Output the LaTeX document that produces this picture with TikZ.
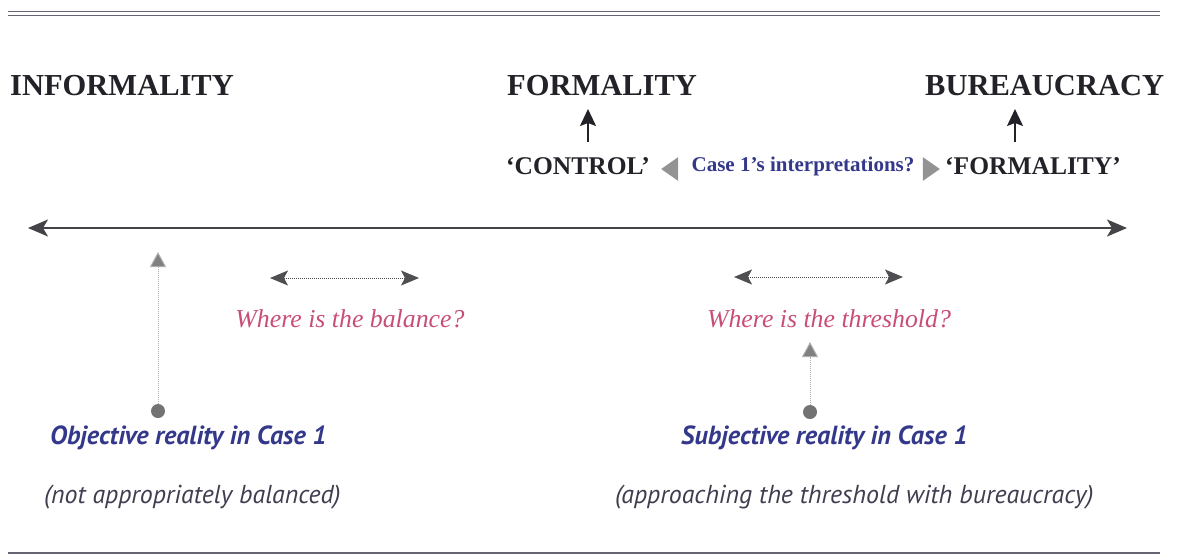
\documentclass[tikz,border=0pt]{standalone}
\usepackage{fontspec}
\setmainfont{Liberation Serif}
\newfontfamily\humansans{PT Sans}
\usetikzlibrary{arrows.meta,shapes.geometric}
\definecolor{ink}{RGB}{34,34,40}
\definecolor{rule}{RGB}{100,100,115}
\definecolor{navy}{RGB}{52,56,138}
\definecolor{rose}{RGB}{200,78,118}
\definecolor{slate}{RGB}{62,62,80}
\definecolor{tri}{RGB}{128,128,128}
\definecolor{dotc}{RGB}{175,175,180}
\tikzset{
  heading/.style={font=\fontsize{30.5}{32}\selectfont\bfseries, text=ink, inner sep=0pt, anchor=west},
  quoted/.style={font=\fontsize{25.5}{27}\selectfont\bfseries, text=ink, inner sep=0pt, anchor=west},
  question/.style={font=\fontsize{25.8}{27}\selectfont\itshape, text=rose, inner sep=0pt},
  reality/.style={font=\humansans\fontsize{26.2}{28}\selectfont\bfseries\itshape, text=navy, inner sep=0pt, anchor=west},
  remark/.style={font=\humansans\fontsize{25.9}{28}\selectfont\itshape, text=slate, inner sep=0pt, anchor=west},
  uparrow/.style={-{Stealth[length=17pt,width=16pt,inset=3pt]}, line width=1.6pt, draw=ink},
  mainaxis/.style={{Stealth[length=20pt,width=17pt,inset=5pt]}-{Stealth[length=20pt,width=17pt,inset=5pt]}, line width=1.8pt, draw=ink!85},
  spanarrow/.style={{Stealth[length=18pt,width=15pt,inset=4pt]}-{Stealth[length=18pt,width=15pt,inset=4pt]}, line width=1pt, draw=ink!80, densely dotted},
  pointer/.style={-{Triangle[length=15pt,width=16pt,fill=tri]}, draw=dotc, line width=1pt, densely dotted},
  marker/.style={circle, fill=tri!90!black, inner sep=0pt, minimum size=14pt},
  sidetri/.style={isosceles triangle, fill=tri!85, inner sep=0pt, minimum height=17pt, minimum width=15pt, isosceles triangle apex angle=70},
}
\begin{document}
\begin{tikzpicture}[x=1pt,y=-1pt]
\useasboundingbox (0,0) rectangle (1180,558);
% frame rules
\draw[rule, line width=1.6pt] (8,11.5) -- (1160,11.5);
\draw[rule, line width=1.6pt] (8,15.5) -- (1160,15.5);
\draw[rule, line width=1.8pt] (8,553) -- (1160,553);

% headings
\node[heading] (inf) at (10,86) {INFORMALITY};
\node[heading] (form) at (507,86) {FORMALITY};
\node[heading] (bur) at (925,86) {BUREAUCRACY};

% interpretations
\node[quoted] (ctrl) at (506,166) {‘CONTROL’};
\node[quoted] (fml) at (945,166) {‘FORMALITY’};
\node[font=\fontsize{21}{22}\selectfont\bfseries, text=navy, inner sep=0pt] (case) at (803,166) {Case 1’s interpretations?};
\node[sidetri, shape border rotate=180] (tl) at (672,169) {};
\node[sidetri] (tr) at (929,169) {};

\coordinate (ca) at (588,142);
\coordinate (ct) at (588,109);
\coordinate (ba) at (1015,142);
\coordinate (bt) at (1015,109);
\draw[uparrow] (ca) -- (ct);
\draw[uparrow] (ba) -- (bt);

% main axis
\coordinate (al) at (28,228);
\coordinate (ar) at (1127,228);
\draw[mainaxis] (al) -- (ar);

% balance / threshold spans
\coordinate (bl) at (270,278);
\coordinate (br) at (419,278);
\draw[spanarrow] (bl) -- (br);
\node[question] (qbal) at (350,319) {Where is the balance?};

\coordinate (tl2) at (734,277);
\coordinate (tr2) at (903,277);
\draw[spanarrow] (tl2) -- (tr2);
\node[question] (qthr) at (829,319) {Where is the threshold?};

% reality markers
\node[marker] (obj) at (158,411) {};
\coordinate (objtip) at (158,252);
\draw[pointer] (obj) -- (objtip);

\node[marker] (sub) at (810,412) {};
\coordinate (subtip) at (810,342);
\draw[pointer] (sub) -- (subtip);

\node[reality] (objt) at (50,438) {Objective reality in Case 1};
\node[remark] (objr) at (44,497) {(not appropriately balanced)};
\node[reality] (subt) at (681,438) {Subjective reality in Case 1};
\node[remark] (subr) at (615,497) {(approaching the threshold with bureaucracy)};
\end{tikzpicture}
\end{document}
